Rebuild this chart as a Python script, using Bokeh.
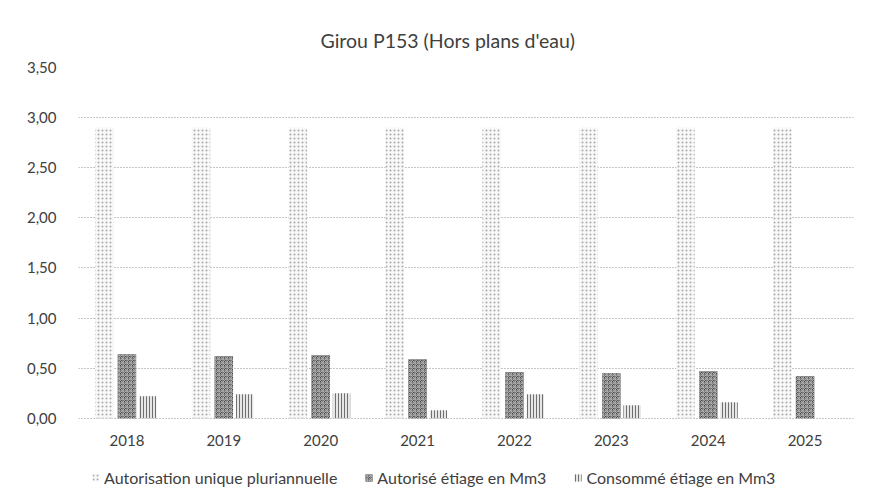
from bokeh.plotting import figure
from bokeh.models import (ColumnDataSource, FactorRange, Range1d, FixedTicker,
                          CustomJSTickFormatter, Legend, LegendItem)
from bokeh.core.properties import value
from bokeh.transform import dodge
from bokeh.embed import file_html
from bokeh.resources import INLINE

years = ["2018", "2019", "2020", "2021", "2022", "2023", "2024", "2025"]
autorisation_unique = [2.90, 2.90, 2.90, 2.90, 2.90, 2.90, 2.90, 2.90]
autorise_etiage = [0.64, 0.62, 0.63, 0.59, 0.46, 0.45, 0.47, 0.42]
consomme_etiage = [0.22, 0.24, 0.25, 0.08, 0.24, 0.13, 0.16, 0.00]
y_ticks = [0.0, 0.5, 1.0, 1.5, 2.0, 2.5, 3.0, 3.5]
series_labels = ["Autorisation unique pluriannuelle",
                 "Autorisé étiage en Mm3",
                 "Consommé étiage en Mm3"]
title_text = "Girou P153 (Hors plans d'eau)"

FONT = "Lato"
TXT = "#404040"

source = ColumnDataSource(dict(year=years, au=autorisation_unique,
                               ae=autorise_etiage, ce=consomme_etiage))

# frame extends below zero to host category labels and legend
p = figure(frame_width=775, frame_height=426, output_backend="svg",
           toolbar_location=None,
           x_range=FactorRange(*years), y_range=Range1d(-0.75, 3.5),
           min_border_left=78, min_border_right=13, min_border_top=67,
           min_border_bottom=0, title=title_text)

p.title.text_font = FONT
p.title.text_font_size = "19.5px"
p.title.text_font_style = "normal"
p.title.text_color = TXT
p.title.align = "left"
p.title.offset = 242
p.title.standoff = 31

p.outline_line_color = None
p.background_fill_color = "white"
p.border_fill_color = "white"

r1 = p.vbar(x=dodge("year", -0.235, range=p.x_range), top="au", width=0.19,
            source=source, fill_color="#f8f8f8", line_color=None,
            hatch_pattern="dot", hatch_color="#a8a8a8", hatch_scale=4,
            hatch_weight=1)
r2 = p.vbar(x=dodge("year", 0.0, range=p.x_range), top="ae", width=0.19,
            source=source, fill_color="#4a4a4a", line_color=None,
            hatch_pattern="criss_cross", hatch_color="#b0b0b0", hatch_scale=4,
            hatch_weight=1)
r3 = p.vbar(x=dodge("year", 0.215, range=p.x_range), top="ce", width=0.18,
            source=source, fill_color="#e6e6e6", line_color=None,
            hatch_pattern="vertical_line", hatch_color="#707070", hatch_scale=3,
            hatch_weight=1)

# category labels
p.text(x="year", y=-0.22, text="year", source=source,
       text_font=value(FONT), text_font_size="15px", text_color=TXT,
       text_align="center", text_baseline="middle")

# axes
p.xaxis.visible = False
p.yaxis.ticker = FixedTicker(ticks=y_ticks)
p.yaxis.formatter = CustomJSTickFormatter(code="return tick.toFixed(2).replace('.', ',');")
ax = p.yaxis[0]
ax.axis_line_color = None
ax.major_tick_line_color = None
ax.minor_tick_line_color = None
ax.major_label_text_font = FONT
ax.major_label_text_font_size = "15px"
ax.major_label_text_color = TXT
ax.major_label_standoff = 16

p.xgrid.grid_line_color = None
p.ygrid.ticker = FixedTicker(ticks=y_ticks)
p.ygrid.grid_line_color = "#8c8c8c"
p.ygrid.grid_line_dash = "1 2"
p.ygrid.grid_line_width = 1

legend = Legend(items=[LegendItem(label=series_labels[0], renderers=[r1]),
                       LegendItem(label=series_labels[1], renderers=[r2]),
                       LegendItem(label=series_labels[2], renderers=[r3])],
                orientation="horizontal", location=(13, 6),
                label_text_font=FONT, label_text_font_size="16px",
                label_text_color=TXT, glyph_width=9, glyph_height=9,
                label_standoff=4, spacing=27, padding=4, margin=0,
                border_line_color=None, background_fill_alpha=0)
p.add_layout(legend)

open("out.html", "w").write(file_html(p, INLINE))
